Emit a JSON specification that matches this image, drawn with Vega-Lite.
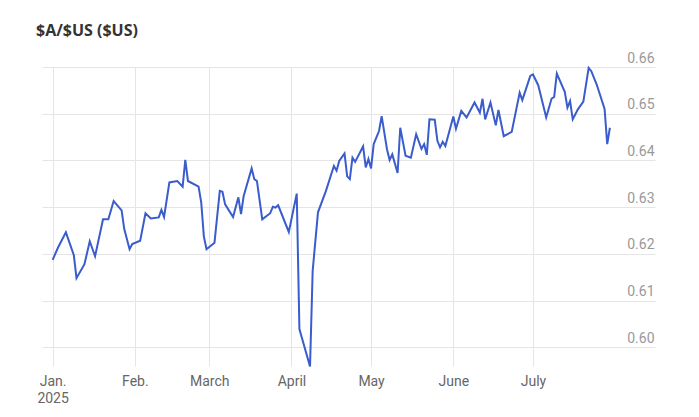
{
  "$schema": "https://vega.github.io/schema/vega-lite/v6.json",
  "autosize": "none",
  "width": 613,
  "height": 299,
  "padding": {"left": 42, "top": 67, "right": 44, "bottom": 51},
  "background": "white",
  "title": {"text": "$A/$US ($US)", "anchor": "start", "frame": "group", "font": "Open Sans", "fontSize": 16, "fontWeight": "bold", "color": "#333333", "offset": 14, "dx": -6, "dy": 15, "baseline": "alphabetic"},
  "config": {"view": {"stroke": null}},
  "data": {"values": [
    {"date": "2025-01-01T00:00:00", "rate": 0.6187},
    {"date": "2025-01-03T00:00:00", "rate": 0.6213},
    {"date": "2025-01-06T00:00:00", "rate": 0.6246},
    {"date": "2025-01-09T00:00:00", "rate": 0.6197},
    {"date": "2025-01-10T00:00:00", "rate": 0.6148},
    {"date": "2025-01-13T00:00:00", "rate": 0.6178},
    {"date": "2025-01-15T00:00:00", "rate": 0.6227},
    {"date": "2025-01-17T00:00:00", "rate": 0.6195},
    {"date": "2025-01-20T00:00:00", "rate": 0.6274},
    {"date": "2025-01-22T00:00:00", "rate": 0.6274},
    {"date": "2025-01-24T00:00:00", "rate": 0.6313},
    {"date": "2025-01-27T00:00:00", "rate": 0.6293},
    {"date": "2025-01-28T00:00:00", "rate": 0.6253},
    {"date": "2025-01-30T00:00:00", "rate": 0.6210},
    {"date": "2025-01-31T00:00:00", "rate": 0.6221},
    {"date": "2025-02-03T00:00:00", "rate": 0.6228},
    {"date": "2025-02-05T00:00:00", "rate": 0.6287},
    {"date": "2025-02-07T00:00:00", "rate": 0.6276},
    {"date": "2025-02-10T00:00:00", "rate": 0.6278},
    {"date": "2025-02-11T00:00:00", "rate": 0.6294},
    {"date": "2025-02-12T00:00:00", "rate": 0.6279},
    {"date": "2025-02-14T00:00:00", "rate": 0.6353},
    {"date": "2025-02-17T00:00:00", "rate": 0.6356},
    {"date": "2025-02-19T00:00:00", "rate": 0.6344},
    {"date": "2025-02-20T00:00:00", "rate": 0.6401},
    {"date": "2025-02-21T00:00:00", "rate": 0.6356},
    {"date": "2025-02-25T00:00:00", "rate": 0.6344},
    {"date": "2025-02-26T00:00:00", "rate": 0.6310},
    {"date": "2025-02-27T00:00:00", "rate": 0.6237},
    {"date": "2025-02-28T00:00:00", "rate": 0.6210},
    {"date": "2025-03-03T00:00:00", "rate": 0.6224},
    {"date": "2025-03-05T00:00:00", "rate": 0.6335},
    {"date": "2025-03-06T00:00:00", "rate": 0.6333},
    {"date": "2025-03-07T00:00:00", "rate": 0.6306},
    {"date": "2025-03-10T00:00:00", "rate": 0.6279},
    {"date": "2025-03-12T00:00:00", "rate": 0.6321},
    {"date": "2025-03-13T00:00:00", "rate": 0.6285},
    {"date": "2025-03-14T00:00:00", "rate": 0.6324},
    {"date": "2025-03-17T00:00:00", "rate": 0.6383},
    {"date": "2025-03-18T00:00:00", "rate": 0.6360},
    {"date": "2025-03-19T00:00:00", "rate": 0.6356},
    {"date": "2025-03-21T00:00:00", "rate": 0.6274},
    {"date": "2025-03-24T00:00:00", "rate": 0.6287},
    {"date": "2025-03-25T00:00:00", "rate": 0.6301},
    {"date": "2025-03-26T00:00:00", "rate": 0.6299},
    {"date": "2025-03-27T00:00:00", "rate": 0.6304},
    {"date": "2025-03-31T00:00:00", "rate": 0.6247},
    {"date": "2025-04-03T00:00:00", "rate": 0.6329},
    {"date": "2025-04-04T00:00:00", "rate": 0.6039},
    {"date": "2025-04-08T00:00:00", "rate": 0.5959},
    {"date": "2025-04-09T00:00:00", "rate": 0.6164},
    {"date": "2025-04-11T00:00:00", "rate": 0.6289},
    {"date": "2025-04-14T00:00:00", "rate": 0.6335},
    {"date": "2025-04-17T00:00:00", "rate": 0.6388},
    {"date": "2025-04-18T00:00:00", "rate": 0.6378},
    {"date": "2025-04-19T00:00:00", "rate": 0.6399},
    {"date": "2025-04-21T00:00:00", "rate": 0.6415},
    {"date": "2025-04-22T00:00:00", "rate": 0.6366},
    {"date": "2025-04-23T00:00:00", "rate": 0.6360},
    {"date": "2025-04-24T00:00:00", "rate": 0.6406},
    {"date": "2025-04-25T00:00:00", "rate": 0.6397},
    {"date": "2025-04-28T00:00:00", "rate": 0.6430},
    {"date": "2025-04-29T00:00:00", "rate": 0.6385},
    {"date": "2025-04-30T00:00:00", "rate": 0.6403},
    {"date": "2025-05-01T00:00:00", "rate": 0.6383},
    {"date": "2025-05-02T00:00:00", "rate": 0.6435},
    {"date": "2025-05-04T00:00:00", "rate": 0.6463},
    {"date": "2025-05-05T00:00:00", "rate": 0.6495},
    {"date": "2025-05-07T00:00:00", "rate": 0.6424},
    {"date": "2025-05-08T00:00:00", "rate": 0.6401},
    {"date": "2025-05-09T00:00:00", "rate": 0.6413},
    {"date": "2025-05-11T00:00:00", "rate": 0.6373},
    {"date": "2025-05-12T00:00:00", "rate": 0.6470},
    {"date": "2025-05-14T00:00:00", "rate": 0.6410},
    {"date": "2025-05-16T00:00:00", "rate": 0.6406},
    {"date": "2025-05-18T00:00:00", "rate": 0.6456},
    {"date": "2025-05-20T00:00:00", "rate": 0.6425},
    {"date": "2025-05-21T00:00:00", "rate": 0.6435},
    {"date": "2025-05-22T00:00:00", "rate": 0.6412},
    {"date": "2025-05-23T00:00:00", "rate": 0.6488},
    {"date": "2025-05-25T00:00:00", "rate": 0.6487},
    {"date": "2025-05-26T00:00:00", "rate": 0.6442},
    {"date": "2025-05-27T00:00:00", "rate": 0.6428},
    {"date": "2025-05-28T00:00:00", "rate": 0.6440},
    {"date": "2025-05-29T00:00:00", "rate": 0.6431},
    {"date": "2025-06-01T00:00:00", "rate": 0.6494},
    {"date": "2025-06-02T00:00:00", "rate": 0.6468},
    {"date": "2025-06-04T00:00:00", "rate": 0.6506},
    {"date": "2025-06-06T00:00:00", "rate": 0.6492},
    {"date": "2025-06-09T00:00:00", "rate": 0.6524},
    {"date": "2025-06-11T00:00:00", "rate": 0.6502},
    {"date": "2025-06-12T00:00:00", "rate": 0.6532},
    {"date": "2025-06-13T00:00:00", "rate": 0.6488},
    {"date": "2025-06-15T00:00:00", "rate": 0.6524},
    {"date": "2025-06-17T00:00:00", "rate": 0.6475},
    {"date": "2025-06-18T00:00:00", "rate": 0.6508},
    {"date": "2025-06-20T00:00:00", "rate": 0.6452},
    {"date": "2025-06-23T00:00:00", "rate": 0.6461},
    {"date": "2025-06-26T00:00:00", "rate": 0.6545},
    {"date": "2025-06-27T00:00:00", "rate": 0.6529},
    {"date": "2025-06-30T00:00:00", "rate": 0.6581},
    {"date": "2025-07-01T00:00:00", "rate": 0.6584},
    {"date": "2025-07-03T00:00:00", "rate": 0.6561},
    {"date": "2025-07-06T00:00:00", "rate": 0.6492},
    {"date": "2025-07-08T00:00:00", "rate": 0.6532},
    {"date": "2025-07-09T00:00:00", "rate": 0.6536},
    {"date": "2025-07-10T00:00:00", "rate": 0.6586},
    {"date": "2025-07-13T00:00:00", "rate": 0.6547},
    {"date": "2025-07-14T00:00:00", "rate": 0.6513},
    {"date": "2025-07-15T00:00:00", "rate": 0.6527},
    {"date": "2025-07-16T00:00:00", "rate": 0.6488},
    {"date": "2025-07-18T00:00:00", "rate": 0.6510},
    {"date": "2025-07-20T00:00:00", "rate": 0.6526},
    {"date": "2025-07-22T00:00:00", "rate": 0.6598},
    {"date": "2025-07-23T00:00:00", "rate": 0.6591},
    {"date": "2025-07-25T00:00:00", "rate": 0.6563},
    {"date": "2025-07-28T00:00:00", "rate": 0.6510},
    {"date": "2025-07-29T00:00:00", "rate": 0.6435},
    {"date": "2025-07-30T00:00:00", "rate": 0.6470}
  ]},
  "mark": {"type": "line", "color": "#3a5ccc", "strokeWidth": 2, "interpolate": "linear"},
  "encoding": {
    "x": {
      "field": "date", "type": "temporal",
      "scale": {"domain": [{"year": 2024, "month": 12, "date": 28}, {"year": 2025, "month": 8, "date": 16}], "nice": false},
      "axis": {
        "title": null, "domain": false, "ticks": false, "grid": true,
        "gridColor": "#e5e5e5", "gridWidth": 1,
        "values": [
          {"year": 2025, "month": 1, "date": 1}, {"year": 2025, "month": 2, "date": 1},
          {"year": 2025, "month": 3, "date": 1}, {"year": 2025, "month": 4, "date": 1},
          {"year": 2025, "month": 5, "date": 1}, {"year": 2025, "month": 6, "date": 1},
          {"year": 2025, "month": 7, "date": 1}
        ],
        "labelExpr": "month(datum.value)==0 ? ['Jan.', '2025'] : month(datum.value)==1 ? 'Feb.' : timeFormat(datum.value, '%B')",
        "labelFont": "Roboto", "labelFontSize": 14, "labelColor": "#666666",
        "labelPadding": 8, "labelBaseline": "top", "labelLineHeight": 17,
        "labelAlign": "center", "labelFlush": false, "labelOverlap": false
      }
    },
    "y": {
      "field": "rate", "type": "quantitative",
      "scale": {"domain": [0.596, 0.66], "nice": false, "zero": false},
      "axis": {
        "orient": "right", "title": null, "domain": false, "ticks": false, "grid": true,
        "gridColor": "#e5e5e5", "gridWidth": 1,
        "values": [0.60, 0.61, 0.62, 0.63, 0.64, 0.65, 0.66],
        "format": ".2f",
        "labelFont": "Roboto", "labelFontSize": 14, "labelColor": "#999999",
        "labelAlign": "right", "labelBaseline": "alphabetic", "labelPadding": -1, "labelOffset": -5,
        "labelFlush": false, "labelOverlap": false
      }
    }
  }
}
